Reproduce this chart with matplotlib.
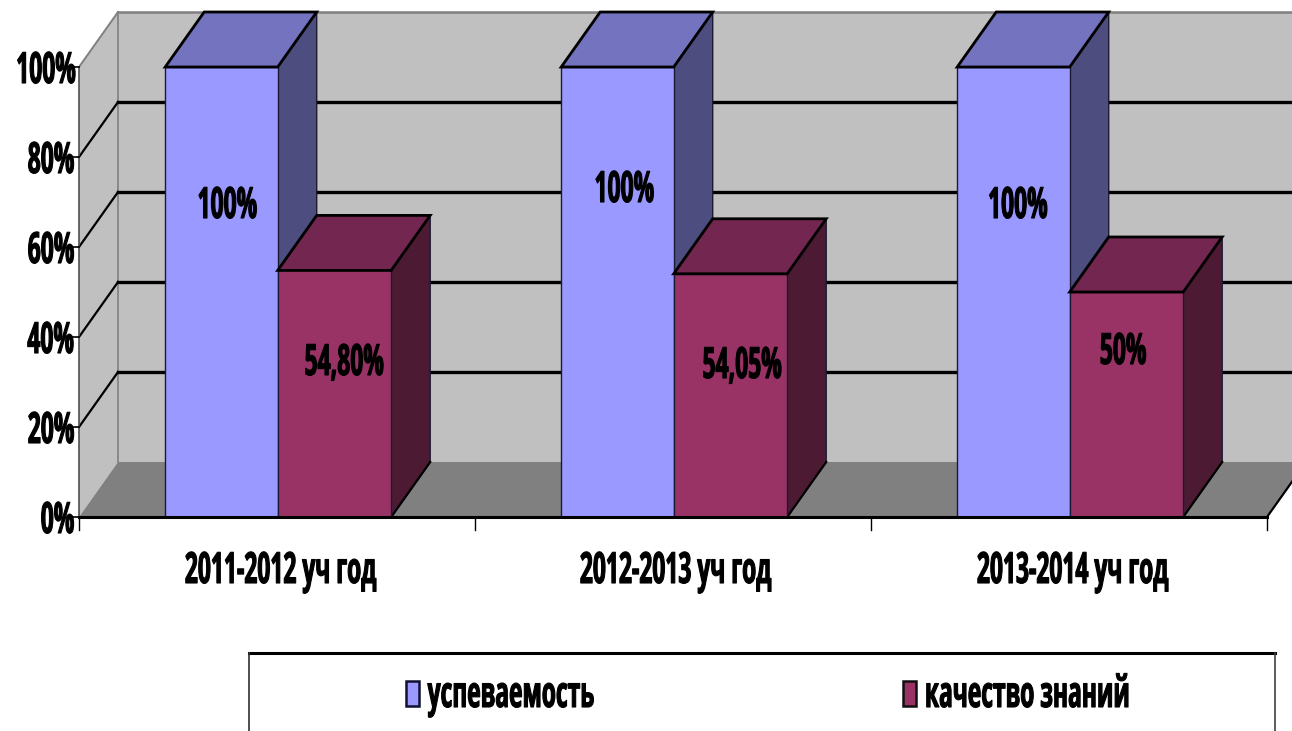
import matplotlib
matplotlib.use("Agg")
import matplotlib.pyplot as plt
from matplotlib.patches import Polygon, Rectangle
from matplotlib.patheffects import AbstractPathEffect
from matplotlib.text import Text
from matplotlib.transforms import Affine2D, Bbox

# values
categories = ["2011-2012 уч год", "2012-2013 уч год", "2013-2014 уч год"]
uspevaemost = [100, 100, 100]
kachestvo = [54.80, 54.05, 50]
uspevaemost_labels = ["100%", "100%", "100%"]
kachestvo_labels = ["54,80%", "54,05%", "50%"]
y_ticks = [0, 20, 40, 60, 80, 100]
y_tick_labels = ["0%", "20%", "40%", "60%", "80%", "100%"]
legend_names = ["успеваемость", "качество знаний"]

W, H = 1292, 731
FONT = "Open Sans"
SIZE = 31
SQUEEZE = 0.53


class Squeeze(AbstractPathEffect):
    """Draw the text squeezed sideways, the reference is a stretched image."""

    def __init__(self, ha, sx, extra=0.8):
        super().__init__()
        self.ha, self.sx, self.extra = ha, sx, extra

    def draw_path(self, renderer, gc, tpath, affine, rgbFace=None):
        ext = tpath.get_extents(affine)
        cx = {"left": ext.x0, "right": ext.x1, "center": (ext.x0 + ext.x1) / 2}[self.ha]
        aff = affine + Affine2D().translate(-cx, 0).scale(self.sx, 1).translate(cx, 0)
        gc0 = renderer.new_gc()
        gc0.copy_properties(gc)
        gc0.set_linewidth(self.extra)
        gc0.set_foreground("black")
        renderer.draw_path(gc0, tpath, aff, rgbFace)
        gc0.restore()


class NarrowText(Text):
    def get_window_extent(self, renderer=None, dpi=None):
        bb = super().get_window_extent(renderer, dpi)
        sx = SQUEEZE
        if self.get_ha() == "left":
            return Bbox.from_extents(bb.x0, bb.y0, bb.x0 + bb.width * sx, bb.y1)
        cx = (bb.x0 + bb.x1) / 2
        return Bbox.from_extents(cx - bb.width * sx / 2, bb.y0, cx + bb.width * sx / 2, bb.y1)


fig = plt.figure(figsize=(W / 100, H / 100), dpi=100, facecolor="white")
# axes = front plane of the 3D box
left, right, top, bottom = 79, 1267, 67, 517
ax = fig.add_axes([left / W, 1 - bottom / H, (right - left) / W, (bottom - top) / H])
ax.set_xlim(0, 3)
ax.set_ylim(0, 100)
ax.axis("off")
ax.patch.set_alpha(0)

px_x = 3 / (right - left)
px_y = 100 / (bottom - top)
dx = 39 * px_x      # depth offset
dy = 55 * px_y
blue_w = 112.5 * px_x
red_w = 113.5 * px_x
EDGE = "#1a1a33"


def poly(pts, fc, z, ec="black", lw=1.0):
    ax.add_patch(Polygon(pts, closed=True, fc=fc, ec=ec, lw=lw, zorder=z, clip_on=False, joinstyle="miter"))


def bar3d(x0, w, h, front, top_c, side, z):
    x1 = x0 + w
    poly([(x0, 0), (x1, 0), (x1, h), (x0, h)], front, z + 0.2, ec=EDGE)
    poly([(x1, 0), (x1 + dx, dy), (x1 + dx, h + dy), (x1, h)], side, z, ec=EDGE)
    # top face has the heavy outline
    poly([(x0, h), (x1, h), (x1 + dx, h + dy), (x0 + dx, h + dy)], top_c, z + 0.3, lw=2.0)
    # lower diagonal of the side face
    ax.plot([x1, x1 + dx], [0, dy], color="black", lw=1.6, zorder=z + 0.1, clip_on=False)


# walls and floor
poly([(dx, dy), (dx, 100 + dy), (3 + dx, 100 + dy), (3 + dx, dy)], "#c0c0c0", 0, ec="none", lw=0)
poly([(0, 0), (dx, dy), (dx, 100 + dy), (0, 100)], "#c0c0c0", 0.5, ec="none", lw=0)
poly([(0, 0), (dx, dy), (3 + dx, dy), (3, 0)], "#808080", 1, ec="none", lw=0)
ax.plot([dx, dx], [dy, 100 + dy], color="#808080", lw=1.2, zorder=0.6, clip_on=False)
ax.plot([dx, 3 + dx], [100 + dy, 100 + dy], color="#808080", lw=1.8, zorder=0.6, clip_on=False)
ax.plot([0, dx], [100, 100 + dy], color="#808080", lw=1.4, zorder=0.6, clip_on=False)
ax.plot([3, 3 + dx], [0, dy], color="black", lw=1.6, zorder=1.1, clip_on=False)

# gridlines on back wall, slanted on the side wall
for t in y_ticks[1:-1]:
    ax.plot([dx, 3 + dx], [t + dy, t + dy], color="black", lw=2.4, zorder=0.8, clip_on=False)
    ax.plot([0, dx], [t, t + dy], color="black", lw=1.6, zorder=0.8, clip_on=False)

# axis lines and ticks
ax.plot([0, 0], [0, 100], color="#505050", lw=1.2, zorder=1.2, clip_on=False)
for i in range(4):
    ax.plot([i, i], [0, -13 * px_y], color="black", lw=1, zorder=1.2, clip_on=False)
for t in y_ticks:
    ax.plot([0, -7 * px_x], [t, t], color="black", lw=1.2, zorder=1.2, clip_on=False)

# bars
for i in range(3):
    c = i + 0.5 + 0.7 * px_x
    bar3d(c - blue_w, blue_w, uspevaemost[i], "#9999ff", "#7373bf", "#4d4d80", 2 + i)
    bar3d(c, red_w, kachestvo[i], "#993366", "#732650", "#4d1a33", 2.5 + i)
ax.plot([0, 3], [0, 0], color="black", lw=2.2, zorder=9, clip_on=False)

# everything below is placed in picture pixels
lax = fig.add_axes([0, 0, 1, 1])
lax.set_xlim(0, W)
lax.set_ylim(H, 0)
lax.axis("off")
lax.patch.set_alpha(0)


def label(x, y, s, ha="center"):
    t = NarrowText(x, y, s, ha=ha, va="baseline", fontsize=SIZE, fontweight="bold", family=FONT,
                   color="black", zorder=10)
    t.set_path_effects([Squeeze(ha, SQUEEZE)])
    lax.add_artist(t)


# left edges of the tick labels as seen in the picture
tick_label_x = [40, 27, 27, 27, 27, 15]
for t, lab, x in zip(y_ticks, y_tick_labels, tick_label_x):
    label(x, bottom - t * (bottom - top) / 100 + 16, lab, ha="left")

bar_label_x = [227, 624, 1017.5]
bar_label_y = [218, 202, 218]
mar_label_x = [344, 742, 1123]
mar_label_y = [375, 378, 364]
cat_x = [280, 675, 1072]
for i in range(3):
    label(bar_label_x[i], bar_label_y[i], uspevaemost_labels[i])
    label(mar_label_x[i], mar_label_y[i], kachestvo_labels[i])
    label(cat_x[i], 583, categories[i])

# legend box, runs off the bottom of the picture
lax.add_patch(Rectangle((249, 653), 1026, 120, fc="white", ec="none"))
lax.plot([249, 1275], [653, 653], color="black", lw=2.2)
lax.plot([249, 249], [653, H], color="#303030", lw=1.2)
lax.plot([1275, 1275], [653, H], color="#404040", lw=1.2)
lax.add_patch(Rectangle((406, 681), 13, 25, fc="#9999ff", ec="#101030", lw=1.8))
lax.add_patch(Rectangle((903, 681), 13, 25, fc="#993366", ec="#101010", lw=1.8))
label(511, 707, legend_names[0])
label(1027, 707, legend_names[1])

fig.savefig("out.png", dpi=100)
